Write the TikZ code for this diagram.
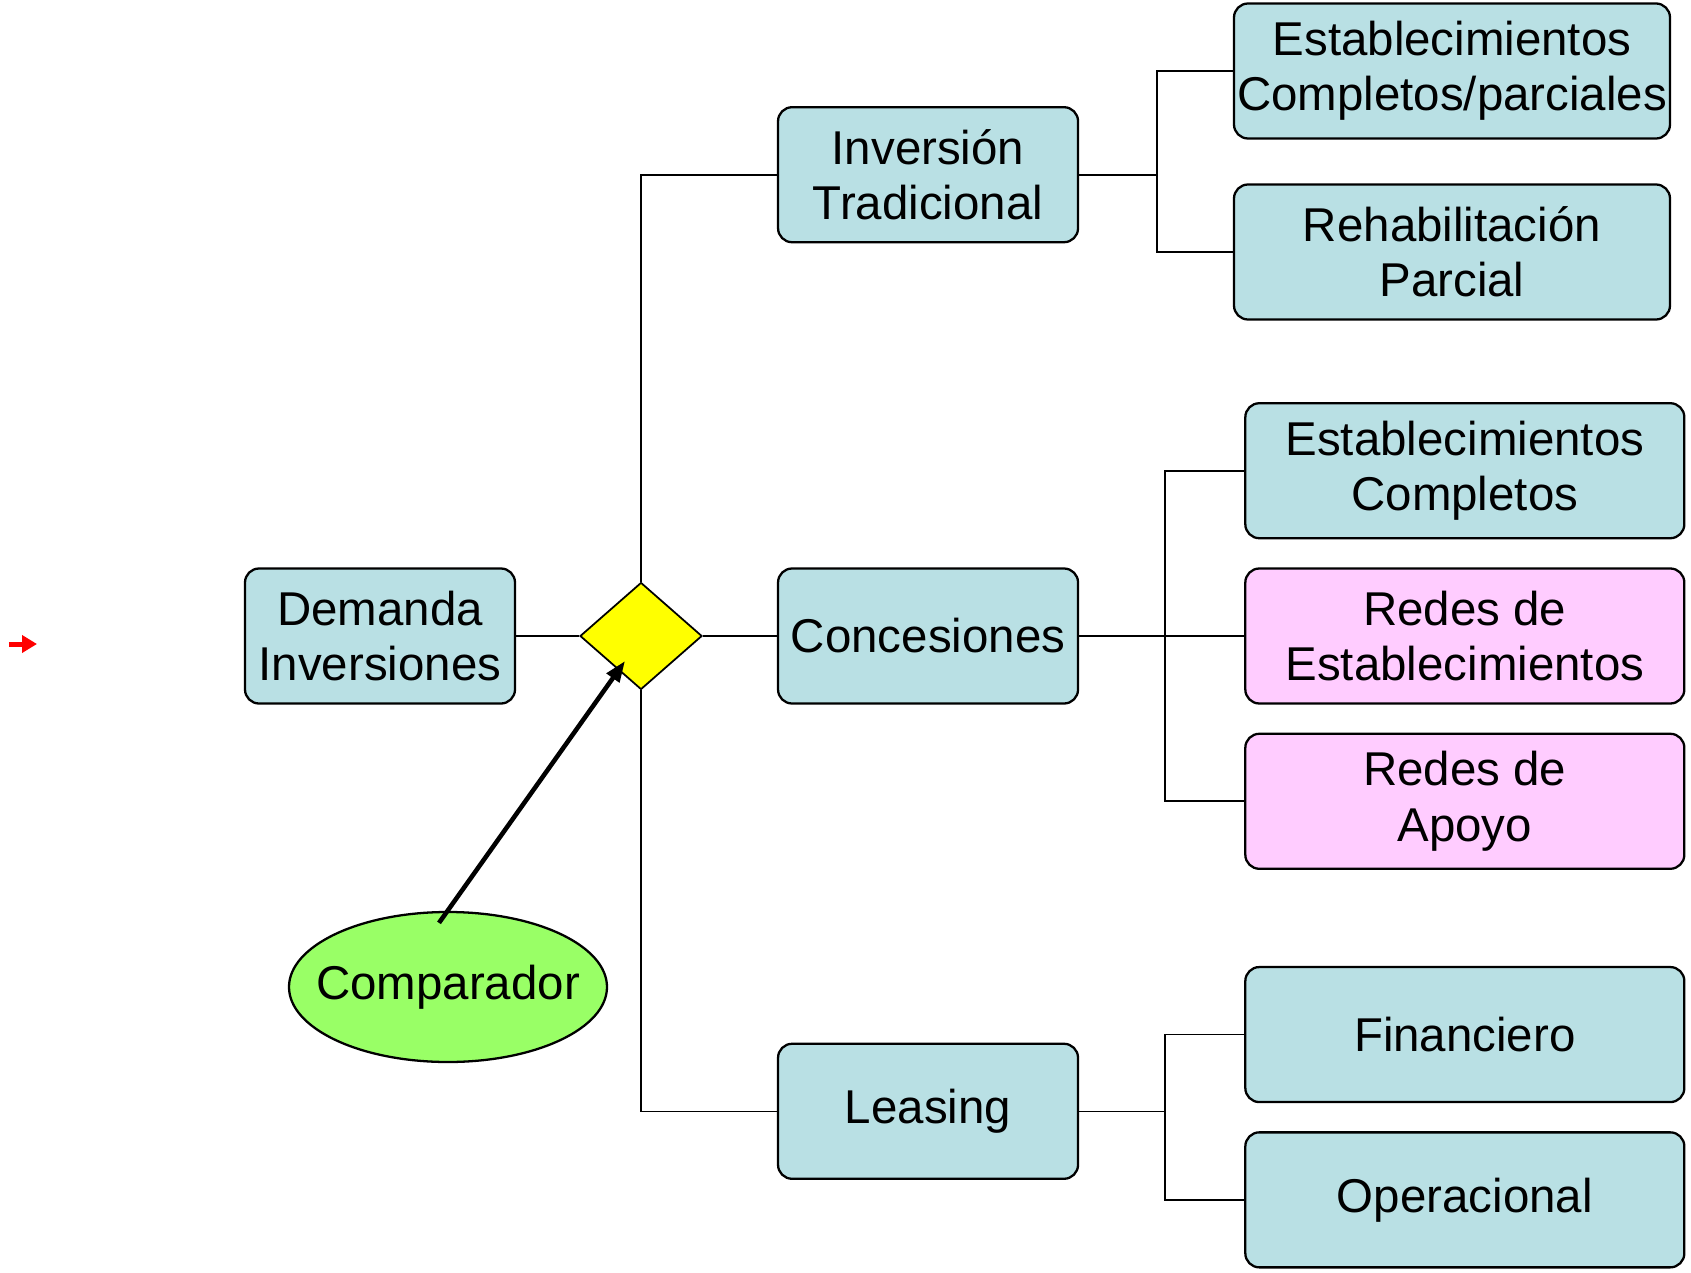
\documentclass[tikz,border=0pt]{standalone}
\usepackage{fontspec}
\setmainfont{Liberation Sans}
\usetikzlibrary{shapes}
\usetikzlibrary{positioning}
\usetikzlibrary{arrows.meta}
\usetikzlibrary{calc}
\definecolor{boxblue}{RGB}{185,224,228}
\definecolor{boxpink}{RGB}{255,204,255}
\definecolor{ovalgreen}{RGB}{153,255,102}
\definecolor{decisionyellow}{RGB}{255,255,0}

\begin{document}
\begin{tikzpicture}[node distance=2cm, auto,
        font=\fontsize{27}{31.5}\selectfont,
        option/.style={draw, line width=1.3pt, rounded corners=0.28cm, fill=boxblue, align=center,
            minimum width=6cm, minimum height=2.7cm, inner sep=0.05cm},
        wide/.style={minimum width=8.72cm},
        wider/.style={minimum width=8.78cm},
        decision/.style={draw, diamond, line width=1pt, fill=decisionyellow, inner sep=0pt,
            minimum width=2.44cm, minimum height=2.14cm},
        oval/.style={draw, ellipse, line width=1.3pt, fill=ovalgreen, inner xsep=-0.4cm, inner ysep=0pt,
            minimum width=6.36cm, minimum height=3cm},
        link/.style={line width=0.9pt}]
            \useasboundingbox (0,0) rectangle (33.82,-25.46);
            \node[option, minimum width=5.4cm] (demand) at (7.6,-12.72) {Demanda\\ Inversiones};
            \node[decision] (chooser) [right=1.26cm of demand] {};
            \node[option] (conc) [right=1.48cm of chooser] {Concesiones};
            \node[option] (trad) [above=6.48cm of conc] {Inversión\\ Tradicional};
            \node[option] (leas) [below=6.76cm of conc] {Leasing};
            \node[option, wide] (fullest) at (29.04,-1.42) {Establecimientos\\ Completos/parciales};
            \node[option, wide] (rehab) at (29.04,-5.04) {Rehabilitación\\ Parcial};
            \node[option, wider, fill=boxpink] (netest) [right=3.3cm of conc] {Redes de\\ Establecimientos};
            \node[option, wider] (compest) [above=0.56cm of netest] {Establecimientos\\ Completos};
            \node[option, wider, fill=boxpink] (netsup) [below=0.56cm of netest] {Redes de\\ Apoyo};
            \node[option, wider] (fin) [below=1.92cm of netsup] {Financiero};
            \node[option, wider] (oper) [below=0.56cm of fin] {Operacional};
            \node[oval] (comparer) at (8.96,-19.74) {Comparador};
            % branch points
            \coordinate (tradbus) at ($(trad.east)+(1.56,0)$);
            \coordinate (concbus) at ($(conc.east)+(1.72,0)$);
            \coordinate (leasbus) at ($(leas.east)+(1.72,0)$);
            \draw[link] (demand) -- (chooser);
            \draw[link] (chooser) -- (conc);
            \draw[link] (chooser.north) |- (trad.west);
            \draw[link] (chooser.south) |- (leas.west);
            \draw[link] (trad.east) -- (tradbus);
            \draw[link] (fullest.west) -| (tradbus) |- (rehab.west);
            \draw[link] (conc.east) -- (netest.west);
            \draw[link] (compest.west) -| (concbus) |- (netsup.west);
            \draw[link] (leas.east) -- (leasbus);
            \draw[link] (fin.west) -| (leasbus) |- (oper.west);
            % comparator arrow
            \coordinate (cmptail) at ($(comparer.north)+(-0.18,-0.24)$);
            \coordinate (cmptip) at ($(chooser.center)+(-0.32,-0.5)$);
            \draw[line width=2.6pt, -{Triangle[length=0.42cm, width=0.3cm]}] (cmptail) -- (cmptip);
            % small red mark
            \coordinate (markstart) at (0.18,-12.88);
            \coordinate (markend) at (0.74,-12.88);
            \draw[red, line width=0.1cm, -{Triangle[length=0.3cm, width=0.34cm]}] (markstart) -- (markend);
        \end{tikzpicture}
\end{document}
